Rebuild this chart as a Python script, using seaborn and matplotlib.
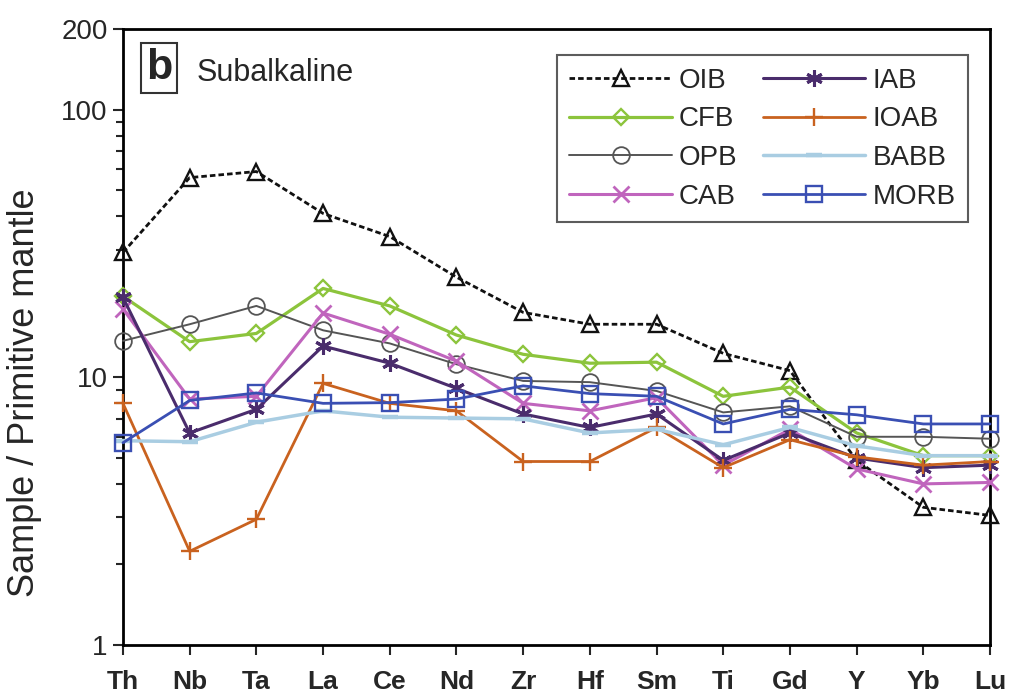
import numpy as np
import pandas as pd
import matplotlib
matplotlib.use("Agg")
import matplotlib.pyplot as plt
from matplotlib.ticker import FixedLocator, NullFormatter, FixedFormatter
import seaborn as sns

elements = ["Th", "Nb", "Ta", "La", "Ce", "Nd", "Zr", "Hf", "Sm", "Ti", "Gd", "Y", "Yb", "Lu"]

OIB  = [29.3, 55.8, 58.8, 41.0, 33.6, 23.7, 17.5, 15.8, 15.8, 12.3, 10.6, 4.9, 3.27, 3.05]
CFB  = [20.1, 13.6, 14.6, 21.5, 18.5, 14.4, 12.2, 11.3, 11.4, 8.5, 9.2, 6.2, 5.1, 5.1]
OPB  = [13.7, 15.8, 18.5, 15.0, 13.4, 11.2, 9.7, 9.6, 8.9, 7.4, 7.8, 6.0, 6.0, 5.9]
CAB  = [18.0, 8.3, 8.5, 17.4, 14.5, 11.5, 8.0, 7.5, 8.4, 4.7, 6.4, 4.55, 4.0, 4.05]
IAB  = [19.9, 6.2, 7.6, 13.1, 11.3, 9.1, 7.3, 6.5, 7.3, 4.9, 6.2, 5.0, 4.6, 4.7]
IOAB = [8.0, 2.24, 2.95, 9.5, 8.0, 7.5, 4.85, 4.85, 6.5, 4.6, 5.85, 5.05, 4.7, 4.85]
BABB = [5.8, 5.75, 6.8, 7.5, 7.1, 7.05, 7.0, 6.2, 6.4, 5.6, 6.5, 5.55, 5.1, 5.1]
MORB = [5.7, 8.2, 8.75, 8.0, 8.05, 8.3, 9.3, 8.7, 8.5, 6.7, 7.6, 7.25, 6.7, 6.7]

series_names = ["OIB", "CFB", "OPB", "CAB", "IAB", "IOAB", "BABB", "MORB"]
series_values = [OIB, CFB, OPB, CAB, IAB, IOAB, BABB, MORB]

styles = {
    "OIB":  dict(color="#111111", marker="^", ls=(0, (2.0, 1.1)), ms=12, mew=1.7, lw=2.0),
    "CFB":  dict(color="#8cc43c", marker="D", ls="-", ms=8, mew=1.7, lw=2.3),
    "OPB":  dict(color="#555555", marker="o", ls="-", ms=12, mew=1.3, lw=1.4),
    "CAB":  dict(color="#c065bd", marker="x", ls="-", ms=11, mew=2.0, lw=2.2),
    "IAB":  dict(color="#4a2c6c", marker=(6, 2, 0), ms=12, ls="-", mew=2.2, lw=2.2),
    "IOAB": dict(color="#c9621f", marker="+", ls="-", ms=13, mew=1.7, lw=2.0),
    "BABB": dict(color="#a9cde2", marker="_", ls="-", ms=11, mew=3.2, lw=2.5),
    "MORB": dict(color="#3a4fb3", marker="s", ls="-", ms=12, mew=1.7, lw=2.0),
}

sns.set_style("ticks")
plt.rcParams["font.family"] = ["Liberation Sans", "DejaVu Sans"]

fig = plt.figure(figsize=(10.13, 6.97), dpi=100)
ax = fig.add_axes([0.1214, 0.0746, 0.8559, 0.8834])

x = np.arange(len(elements))
for name, vals in zip(series_names, series_values):
    st = styles[name]
    df = pd.DataFrame({"x": x, "y": vals})
    sns.lineplot(data=df, x="x", y="y", ax=ax, color=st["color"], marker=st["marker"],
                 linestyle=st["ls"], linewidth=st["lw"], markersize=st["ms"],
                 markerfacecolor="none", markeredgecolor=st["color"],
                 markeredgewidth=st["mew"], label=name, clip_on=False, zorder=3)

ax.set_yscale("log")
ax.set_ylim(1, 200)
ax.set_xlim(0, len(elements) - 1)

ax.yaxis.set_major_locator(FixedLocator([1, 10, 100, 200]))
ax.yaxis.set_major_formatter(FixedFormatter(["1", "10", "100", "200"]))
minor = [v * m for v in (1, 10) for m in range(2, 10)]
ax.yaxis.set_minor_locator(FixedLocator(minor))
ax.yaxis.set_minor_formatter(NullFormatter())

ax.set_xticks(x)
ax.set_xticklabels(elements, fontsize=19, fontweight="bold",
                   family=["Liberation Sans Narrow", "Liberation Sans"])
ax.tick_params(axis="x", which="major", length=7, width=1.5, direction="out", pad=11)
ax.tick_params(axis="y", which="major", length=7, width=1.5, direction="out", labelsize=20, pad=4)
ax.tick_params(axis="y", which="minor", length=5, width=1.5, direction="out")

for sp in ax.spines.values():
    sp.set_linewidth(2.0)
    sp.set_color("black")

ax.set_xlabel("")
ax.set_ylabel("Sample / Primitive mantle", fontsize=26)
ax.yaxis.set_label_coords(-0.093, 0.41)

ax.text(0.0415, 0.937, "b", transform=ax.transAxes, fontsize=31, fontweight="bold",
        va="center", ha="center",
        bbox=dict(boxstyle="square,pad=0.12", facecolor="white", edgecolor="#333333", linewidth=1.5))
ax.text(0.085, 0.929, "Subalkaline", transform=ax.transAxes, fontsize=22, va="center", ha="left")

leg = ax.legend(ncol=2, loc="upper right", bbox_to_anchor=(0.9746, 0.958), fontsize=20,
                frameon=True, fancybox=False, edgecolor="#333333", handlelength=3.7,
                columnspacing=0.9, handletextpad=0.25, labelspacing=0.46, borderpad=0.45,
                borderaxespad=0)
leg.get_frame().set_linewidth(1.5)

fig.savefig("out.png", dpi=100)
